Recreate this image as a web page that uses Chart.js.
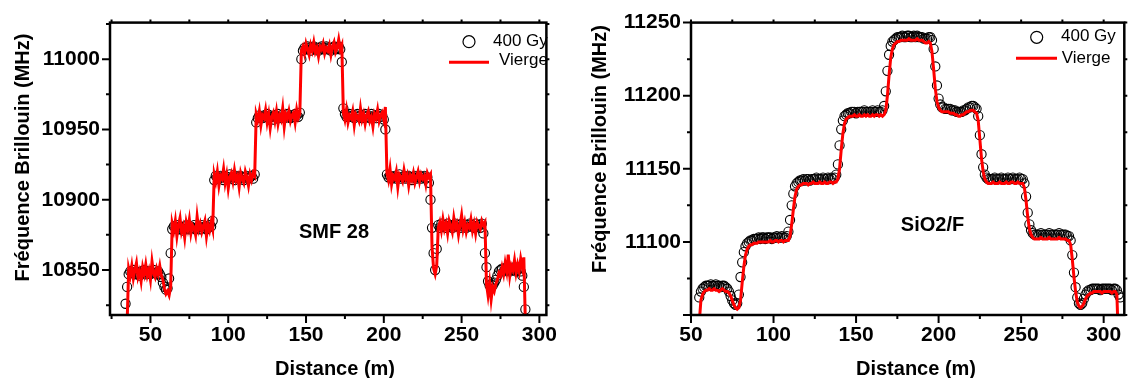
<!DOCTYPE html>
<html>
<head>
<meta charset="utf-8">
<script src="https://cdn.jsdelivr.net/npm/chart.js@4.4.1/dist/chart.umd.min.js"></script>
<style>
  html, body { margin: 0; padding: 0; background: #fff; }
  #wrap { position: relative; width: 1130px; height: 378px; overflow: hidden; }
  #wrap canvas { position: absolute; top: 0; }
</style>
</head>
<body>
<div id="wrap">
  <canvas id="smf" width="565" height="378" style="left:0"></canvas>
  <canvas id="sio" width="565" height="378" style="left:565px"></canvas>
</div>
<script>
// ---------------- DONNÉES : SMF 28 ----------------
const distSMF = [
  34,35,36,37,38,39,40,41,42,43,44,45,46,47,48,49,50,51,52,53,
  54,55,56,57,58,59,60,61,62,63,64,65,66,67,68,69,70,71,72,73,
  74,75,76,77,78,79,80,81,82,83,84,85,86,87,88,89,90,91,92,93,
  94,95,96,97,98,99,100,101,102,103,104,105,106,107,108,109,110,111,112,113,
  114,115,116,117,118,119,120,121,122,123,124,125,126,127,128,129,130,131,132,133,
  134,135,136,137,138,139,140,141,142,143,144,145,146,147,148,149,150,151,152,153,
  154,155,156,157,158,159,160,161,162,163,164,165,166,167,168,169,170,171,172,173,
  174,175,176,177,178,179,180,181,182,183,184,185,186,187,188,189,190,191,192,193,
  194,195,196,197,198,199,200,201,202,203,204,205,206,207,208,209,210,211,212,213,
  214,215,216,217,218,219,220,221,222,223,224,225,226,227,228,229,230,231,232,233,
  234,235,236,237,238,239,240,241,242,243,244,245,246,247,248,249,250,251,252,253,
  254,255,256,257,258,259,260,261,262,263,264,265,266,267,268,269,270,271,272,273,
  274,275,276,277,278,279,280,281,282,283,284,285,286,287,288,289,290,291
];
const viergeSMF = [
  null, 10812,
  10851,10846,10853,10844,10850,10855,10845,10849,10842,10852,10847,10854,10846,10850,10843,10856,10848,10845,10851,10847,10853,10846,
  10843,10837,10833,10835,10832,10838,
  10883,10878,10885,10874,10882,10887,10877,10881,10873,10884,10879,10886,10876,10882,10880,10875,10888,10879,10883,10877,10881,10885,10874,10882,10878,10884,10879,
  10918,10913,10920,10910,10917,10915,10922,10912,10918,10908,10916,10919,10913,10921,10914,10917,10909,10919,10915,10912,10920,10916,10910,10918,10914,10919,10917,
  10961,10957,10963,10953,10960,10958,10964,10955,10961,10951,10959,10962,10956,10963,10954,10960,10957,10965,10952,10961,10958,10963,10956,10960,10962,10955,10964,10958,10961,
  11006,11009,11004,11011,11007,11003,11010,11006,11012,11005,11008,11002,11009,11007,11011,11004,11008,11006,11010,11003,11009,11012,11005,11008,11014,11007,11010,
  10962,10957,10964,10955,10960,10958,10963,10953,10961,10959,10956,10965,10957,10961,10954,10960,10963,10956,10959,10952,10961,10958,10964,10956,10960,10962,10957,10966,
  10919,10914,10922,10911,10917,10915,10920,10909,10918,10916,10913,10921,10915,10918,10910,10917,10914,10919,10912,10916,10920,10913,10918,10915,10917,10911,10919,10916,10918,
  10866,10851,10847,10853,
  10880,10884,10878,10886,10879,10883,10876,10885,10881,10877,10887,10880,10883,10875,10882,10889,10879,10884,10877,10882,10880,10886,10878,10883,10876,10884,10881,10879,10885,10882,10884,
  10840,10832,10841,10829,10838,10835,10840,
  10843,10848,10846,
  10852,10847,10855,10849,10861,10846,10853,10850,10857,10848,10854,10849,10858,10852,10859,
  10812
];
const gy400SMF = [
  10826, 10838,
  10847,10849,10848,10850,10847,10849,10848,10846,10849,10848,10850,10847,10848,10849,10847,10848,10850,10848,10847,10849,10847,10845,
  10841,10838,10836,10837,10844,10862,
  10879,10881,10880,10882,10879,10881,10880,10878,10881,10882,10880,10879,10881,10880,10882,10879,10880,10881,10879,10882,10880,10881,10879,10880,10882,10881,10885,
  10914,10917,10916,10915,10917,10916,10914,10917,10915,10916,10918,10915,10916,10914,10917,10916,10915,10917,10916,10914,10916,10917,10915,10916,10917,10915,10918,
  10955,10958,10960,10959,10958,10960,10959,10961,10958,10960,10959,10957,10960,10959,10961,10958,10960,10959,10958,10960,10961,10959,10958,10960,10959,10961,10960,10959,10962,
  11000,11006,11008,11007,11009,11008,11006,11008,11009,11007,11008,11006,11008,11009,11007,11008,11009,11007,11008,11006,11008,11009,11007,11008,11009,11007,10998,
  10965,10961,10959,10960,10961,10959,10960,10958,10960,10961,10959,10960,10958,10960,10961,10959,10960,10958,10961,10959,10960,10958,10960,10961,10959,10960,10957,10950,
  10918,10916,10917,10915,10916,10917,10915,10916,10918,10915,10916,10917,10915,10916,10917,10916,10914,10916,10917,10915,10916,10917,10915,10916,10917,10915,10916,10912,10900,
  10880,10862,10850,10865,
  10882,10880,10883,10881,10882,10880,10883,10881,10882,10880,10882,10883,10881,10882,10880,10883,10881,10882,10880,10882,10883,10881,10882,10880,10883,10881,10882,10880,10883,10876,10862,
  10852,10842,10839,10840,10839,10841,10843,
  10846,10849,10850,
  10851,10849,10850,10852,10850,10849,10851,10850,10852,10849,10850,10851,10849,10846,10838,
  10822
];

// ---------------- DONNÉES : SiO2/F ----------------
const distSiO2 = [
  55,56,57,58,59,60,61,62,63,64,65,66,67,68,69,70,71,72,73,74,
  75,76,77,78,79,80,81,82,83,84,85,86,87,88,89,90,91,92,93,94,
  95,96,97,98,99,100,101,102,103,104,105,106,107,108,109,110,111,112,113,114,
  115,116,117,118,119,120,121,122,123,124,125,126,127,128,129,130,131,132,133,134,
  135,136,137,138,139,140,141,142,143,144,145,146,147,148,149,150,151,152,153,154,
  155,156,157,158,159,160,161,162,163,164,165,166,167,168,169,170,171,172,173,174,
  175,176,177,178,179,180,181,182,183,184,185,186,187,188,189,190,191,192,193,194,
  195,196,197,198,199,200,201,202,203,204,205,206,207,208,209,210,211,212,213,214,
  215,216,217,218,219,220,221,222,223,224,225,226,227,228,229,230,231,232,233,234,
  235,236,237,238,239,240,241,242,243,244,245,246,247,248,249,250,251,252,253,254,
  255,256,257,258,259,260,261,262,263,264,265,266,267,268,269,270,271,272,273,274,
  275,276,277,278,279,280,281,282,283,284,285,286,287,288,289,290,291,292,293,294,
  295,296,297,298,299,300,301,302,303,304,305,306,307,308,309,310
];
const viergeSiO2 = [
  11045,11060,11064,11066,11067,
  11067,11068,11067,11067,11068,11067,11067,11066,11067,11068,11067,11066,
  11066,11065,11063,11060,11057,11055,11054,11055,11060,11072,11083,11091,11095,11097,11098,11098,
  11099,11099,11099,11100,11100,11100,11100,11100,11100,11100,11101,11100,11100,11101,11101,11100,11101,11101,11100,11101,11101,11101,
  11104,11112,11122,11131,11136,11138,11139,
  11139,11140,11140,11140,11139,11140,11140,11141,11140,11140,11140,11141,11140,11140,11141,11140,11140,11141,11141,11140,11141,11141,
  11143,11150,11163,11174,11181,11184,11185,
  11186,11186,11186,11187,11186,11186,11187,11186,11186,11187,11186,11187,11186,11186,11187,11186,11187,11187,11186,11187,11186,11187,
  11190,11200,11214,11226,11232,11235,11236,
  11237,11237,11238,11238,11238,11238,11238,11239,11238,11238,11238,11238,11239,11238,11238,11238,11237,
  11236,11236,11237,11236,11230,11218,11205,11196,11192,11190,
  11189,11189,11189,11189,11189,11188,11188,11188,11187,11187,11186,11186,11187,11187,11188,11189,11189,11190,11190,11190,11189,
  11188,11183,11170,11157,11148,11143,11141,
  11140,11140,11140,11141,11140,11140,11140,11141,11140,11140,11140,11141,11140,11140,11141,11141,11140,11140,11141,11140,11140,11140,
  11137,11128,11117,11109,11105,11103,
  11102,11102,11102,11102,11103,11102,11102,11102,11102,11103,11102,11102,11102,11102,11102,11103,11102,11102,11102,11102,11101,11101,
  11098,11088,11076,11066,11059,11056,11055,11056,11058,11061,11063,11064,11065,
  11065,11066,11066,11066,11066,11066,11065,11066,11066,11066,11066,11066,11065,11066,11066,
  11064,11030,null
];
const gy400SiO2 = [
  11062,11066,11068,11069,11070,
  11070,11070,11071,11070,11070,11071,11070,11070,11069,11070,11070,11069,
  11068,11066,11063,11060,11058,11057,11058,11064,11076,11086,11093,11097,11099,11100,11101,11101,
  11102,11102,11102,11103,11102,11103,11103,11102,11103,11103,11103,11102,11103,11103,11104,11103,11103,11104,11103,11103,11104,11107,
  11115,11125,11133,11138,11140,11141,11142,
  11142,11143,11142,11143,11143,11142,11143,11143,11143,11144,11143,11143,11143,11144,11143,11143,11144,11143,11144,11143,11144,11146,
  11153,11166,11177,11183,11186,11187,11188,
  11188,11189,11189,11189,11188,11189,11189,11189,11189,11190,11189,11189,11189,11189,11190,11189,11189,11190,11189,11189,11190,11193,
  11203,11217,11228,11234,11237,11238,11239,
  11240,11240,11240,11241,11240,11240,11241,11241,11240,11240,11241,11240,11241,11240,11240,11240,11239,
  11239,11239,11240,11240,11238,11232,11220,11207,11198,11194,
  11192,11192,11191,11191,11191,11191,11190,11190,11190,11189,11189,11189,11189,11190,11190,11191,11192,11192,11193,11193,11192,
  11191,11186,11173,11160,11151,11146,11144,
  11143,11143,11143,11143,11144,11143,11143,11143,11144,11143,11143,11143,11144,11143,11143,11144,11143,11143,11143,11144,11143,11143,
  11140,11131,11120,11112,11108,11106,
  11105,11105,11105,11105,11106,11105,11105,11105,11105,11106,11105,11105,11105,11105,11105,11106,11105,11105,11105,11105,11104,11104,
  11101,11091,11079,11069,11062,11058,11057,11058,11061,11064,11066,11067,11067,
  11068,11068,11068,11068,11068,11067,11068,11068,11068,11068,11068,11068,11067,11068,11068,
  11067,11064,11062
];

// ---------------- ÉTIQUETTES DES AXES ----------------
const xTickLabels = [50, 100, 150, 200, 250, 300];
const yLabelsSMF = [10850, 10900, 10950, 11000];
const yLabelsSiO2 = [11100, 11150, 11200, 11250];

const FONT = '"Liberation Sans", Arial, Helvetica, sans-serif';
Chart.defaults.font.family = FONT;
Chart.defaults.color = '#000';

// cadre, graduations, titres, légende et étiquette de fibre
const decor = {
  id: 'decor',
  afterDraw(chart, args, o) {
    const { ctx, chartArea: a } = chart;
    const xs = chart.scales.x, ys = chart.scales.y;
    ctx.save();
    ctx.strokeStyle = '#000';
    ctx.lineWidth = 2;
    ctx.beginPath();
    xs.ticks.forEach(t => {
      if (t.value % 25) return;
      const px = xs.getPixelForValue(t.value);
      const len = t.value % 50 ? 4 : 8;
      ctx.moveTo(px, a.bottom); ctx.lineTo(px, a.bottom + len);
      ctx.moveTo(px, a.top); ctx.lineTo(px, a.top - 3);
    });
    ys.ticks.forEach(t => {
      if (t.value % 25) return;
      const py = ys.getPixelForValue(t.value);
      const len = t.value % 50 ? 4 : 8;
      ctx.moveTo(a.left, py); ctx.lineTo(a.left - len, py);
      ctx.moveTo(a.right, py); ctx.lineTo(a.right + 3, py);
    });
    ctx.stroke();
    ctx.lineWidth = 2.5;
    ctx.strokeRect(a.left, a.top, a.right - a.left, a.bottom - a.top);

    ctx.fillStyle = '#000';
    ctx.font = 'bold 20px ' + FONT;
    ctx.textAlign = 'center';
    ctx.textBaseline = 'middle';
    ctx.fillText(o.xTitle.text, o.xTitle.x, o.xTitle.y);
    ctx.fillText(o.tag.text, o.tag.x, o.tag.y);
    ctx.save();
    ctx.translate(o.yTitle.x, o.yTitle.y);
    ctx.rotate(-Math.PI / 2);
    ctx.fillText(o.yTitle.text, 0, 0);
    ctx.restore();

    // légende
    const L = o.legend;
    const [lineSet, dotSet] = chart.data.datasets;
    ctx.lineWidth = 1.2;
    ctx.beginPath();
    ctx.arc(L.cx, L.cy, 6, 0, Math.PI * 2);
    ctx.stroke();
    ctx.strokeStyle = lineSet.borderColor;
    ctx.lineWidth = 3;
    ctx.beginPath();
    ctx.moveTo(L.lx1, L.ly); ctx.lineTo(L.lx2, L.ly);
    ctx.stroke();
    ctx.font = '17px ' + FONT;
    ctx.textAlign = 'left';
    ctx.fillText(dotSet.label, L.tx, L.ty);
    ctx.fillText(lineSet.label, L.tx2, L.ty2);
    ctx.restore();
  }
};

function makeChart(id, dist, vierge, gy400, cfg) {
  return new Chart(document.getElementById(id), {
    type: 'line',
    data: {
      datasets: [{
        label: 'Vierge',
        data: dist.map((d, i) => ({ x: d, y: vierge[i] })),
        borderColor: '#ff0000',
        borderWidth: 3,
        pointRadius: 0,
        tension: 0,
        spanGaps: false
      }, {
        label: '400 Gy',
        data: dist.map((d, i) => ({ x: d, y: gy400[i] })),
        showLine: false,
        pointStyle: 'circle',
        pointRadius: 4.6,
        pointBorderWidth: 1.1,
        borderColor: '#000',
        backgroundColor: 'rgba(0,0,0,0)'
      }]
    },
    options: {
      responsive: false,
      animation: false,
      events: [],
      layout: { padding: { left: 0, right: cfg.padRight, top: 20, bottom: 0 } },
      scales: {
        x: {
          type: 'linear', min: cfg.xMin, max: cfg.xMax,
          grid: { display: false, drawTicks: false },
          border: { display: false },
          ticks: {
            stepSize: 25, includeBounds: false, autoSkip: false, maxRotation: 0,
            padding: 8, color: '#000', font: { size: 21, weight: 'bold' },
            callback: v => xTickLabels.includes(v) ? v : ''
          },
          afterFit: s => { s.height = 63; }
        },
        y: {
          type: 'linear', min: cfg.yMin, max: cfg.yMax,
          grid: { display: false, drawTicks: false },
          border: { display: false },
          ticks: {
            stepSize: 25, includeBounds: false, autoSkip: false,
            padding: 10, color: '#000', font: { size: 21, weight: 'bold' },
            callback: v => cfg.yLabels.includes(v) ? v : ''
          },
          afterFit: s => { s.width = cfg.yWidth; }
        }
      },
      plugins: {
        legend: { display: false },
        tooltip: { enabled: false },
        decor: cfg.decor
      }
    },
    plugins: [decor]
  });
}

makeChart('smf', distSMF, viergeSMF, gy400SMF, {
  xMin: 24, xMax: 304.5, yMin: 10818, yMax: 11026,
  yLabels: yLabelsSMF, yWidth: 110, padRight: 6,
  decor: {
    xTitle: { text: 'Distance (m)', x: 335, y: 369.5 },
    yTitle: { text: 'Fréquence Brillouin (MHz)', x: 23, y: 157.5 },
    tag: { text: 'SMF 28', x: 334, y: 232.5 },
    legend: { cx: 469, cy: 41.7, tx: 493, ty: 41, lx1: 449, lx2: 489, ly: 62.3, tx2: 499, ty2: 60.5 }
  }
});

makeChart('sio', distSiO2, viergeSiO2, gy400SiO2, {
  xMin: 50, xMax: 312.5, yMin: 11050, yMax: 11250,
  yLabels: yLabelsSiO2, yWidth: 126, padRight: 2,
  decor: {
    xTitle: { text: 'Distance (m)', x: 351, y: 369.5 },
    yTitle: { text: 'Fréquence Brillouin (MHz)', x: 35, y: 149 },
    tag: { text: 'SiO2/F', x: 367.5, y: 225.5 },
    legend: { cx: 471.7, cy: 37.3, tx: 496, ty: 36.7, lx1: 451, lx2: 492, ly: 58.3, tx2: 496.7, ty2: 58.3 }
  }
});
</script>
</body>
</html>
